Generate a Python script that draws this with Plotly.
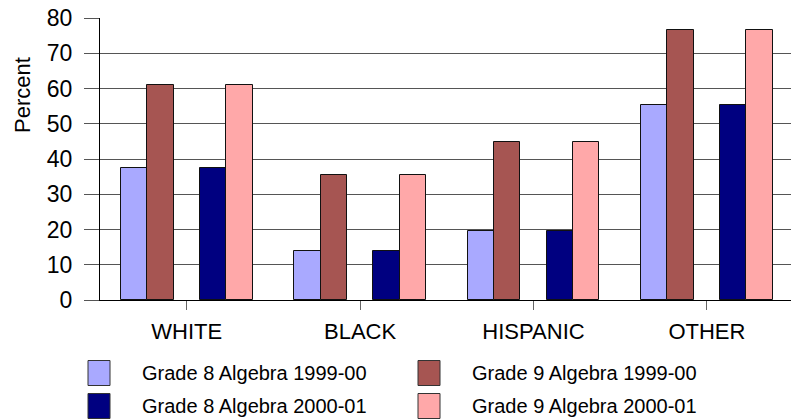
import plotly.graph_objects as go

# Share of students taking algebra, by group
groups = ["WHITE", "BLACK", "HISPANIC", "OTHER"]
series_names = [
    "Grade 8 Algebra 1999-00",
    "Grade 9 Algebra 1999-00",
    "Grade 8 Algebra 2000-01",
    "Grade 9 Algebra 2000-01",
]
g8_1999 = [37.4, 13.8, 19.5, 55.3]
g9_1999 = [61.0, 35.6, 44.8, 76.7]
g8_2000 = [37.4, 13.8, 19.5, 55.3]
g9_2000 = [61.0, 35.6, 44.8, 76.7]
y_ticks = [0, 10, 20, 30, 40, 50, 60, 70, 80]

colors = ["#A9A9FF", "#A65552", "#000080", "#FFA8A9"]
series_values = [g8_1999, g9_1999, g8_2000, g9_2000]

# bar slots inside each category: two bars, a gap, two bars
slot = 0.152
offsets = [-2.5 * slot, -1.5 * slot, 0.5 * slot, 1.5 * slot]

FONT = "Liberation Sans, Arial, sans-serif"

fig = go.Figure()
for name, vals, col, off in zip(series_names, series_values, colors, offsets):
    fig.add_trace(go.Bar(
        x=groups, y=vals, name=name,
        marker=dict(color=col, line=dict(color="#111111", width=1)),
        width=slot, offset=off, showlegend=False,
    ))

W, H = 791, 420
L, R, T, B = 100, 0, 18, 120
pw, ph = W - L - R, H - T - B


def px_x(px):
    return (px - L) / pw


def px_y(py):
    return (H - B - py) / ph


fig.update_layout(
    width=W, height=H,
    margin=dict(l=L, r=R, t=T, b=B, pad=0),
    paper_bgcolor="white", plot_bgcolor="white",
    font=dict(family=FONT, color="black"),
    bargap=0, showlegend=False,
    xaxis=dict(
        range=[-0.5, 3.485], type="category",
        showline=True, linecolor="black", linewidth=1,
        ticks="outside", ticklen=9, tickcolor="#666666", tickwidth=1,
        tickfont=dict(size=22, family=FONT), ticklabelstandoff=3,
        showgrid=False, zeroline=False,
    ),
    yaxis=dict(
        range=[0, 80], tickvals=y_ticks,
        showline=True, linecolor="black", linewidth=1,
        ticks="outside", ticklen=15, tickcolor="#555555", tickwidth=1,
        tickfont=dict(size=23, family=FONT), ticklabelstandoff=7,
        showgrid=True, gridcolor="#555555", gridwidth=1,
        zeroline=False,
    ),
)

# y axis title
fig.add_annotation(
    x=px_x(22), y=px_y(95), xref="paper", yref="paper",
    text="Percent", textangle=-90, showarrow=False,
    font=dict(size=22, family=FONT, color="black"),
    xanchor="center", yanchor="middle",
)

# two-column legend with large swatches
legend_cols = [88, 418]
legend_rows = [373, 406]
for i, (name, col) in enumerate(zip(series_names, colors)):
    cx = legend_cols[i % 2]
    cy = legend_rows[i // 2]
    fig.add_shape(
        type="rect", xref="paper", yref="paper",
        x0=px_x(cx), x1=px_x(cx + 22),
        y0=px_y(cy + 12.5), y1=px_y(cy - 12.5),
        fillcolor=col, line=dict(color="#333333", width=1),
    )
    fig.add_annotation(
        x=px_x(cx + 52), y=px_y(cy), xref="paper", yref="paper",
        text=name, showarrow=False, xanchor="left", yanchor="middle",
        font=dict(size=20, family=FONT, color="black"),
    )

fig.write_html("out.html")
